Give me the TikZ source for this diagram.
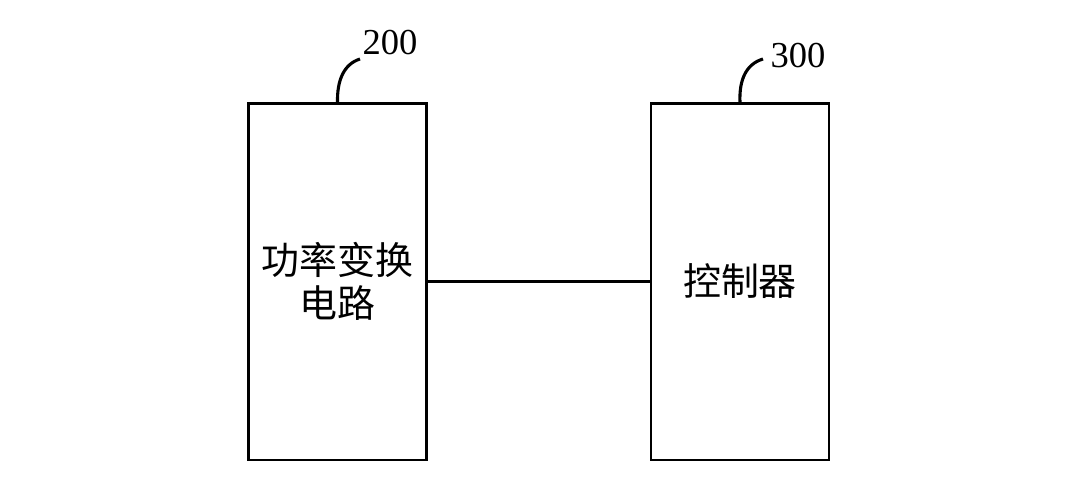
\documentclass[tikz,border=0pt]{standalone}
\usepackage{fontspec}
\setmainfont{Liberation Serif}
\newfontfamily\cjk{Noto Sans CJK SC}
\begin{document}
\begin{tikzpicture}[
    x=0.025cm, y=-0.025cm,
    line width=1.5pt,
    block/.style={draw, minimum width=4.45cm, minimum height=8.9cm, inner sep=0pt,
        align=center, font=\cjk\fontsize{27}{31}\selectfont},
    refnum/.style={font=\fontsize{26}{28}\selectfont, inner sep=0pt},
    leader/.style={line width=2.2pt}
]
\useasboundingbox (0,0) rectangle (1080,483);

\node[block] (b200) at (337.5,281.5) {功率变换\\电路};
\node[block] (b300) at (740,281.5) {控制器};

\node[refnum] (l200) at (390,43) {200};
\node[refnum] (l300) at (798,56) {300};
\coordinate (c200) at (360,59);
\coordinate (c300) at (763,59);

\draw (b200) -- (b300);
\draw[leader] (b200.north) .. controls (337,80) and (344,64) .. (c200);
\draw[leader] (b300.north) .. controls (739,80) and (746,64) .. (c300);
\end{tikzpicture}
\end{document}
